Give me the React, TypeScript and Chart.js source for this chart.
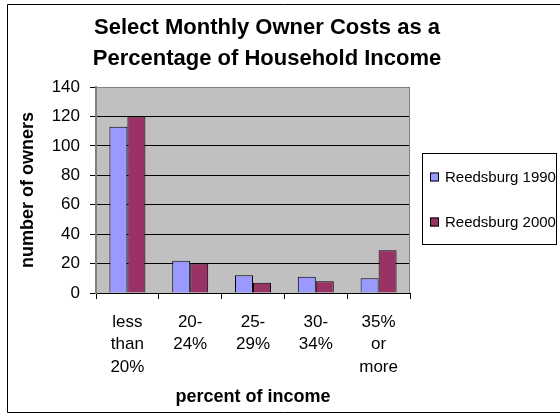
import React, { useEffect, useRef } from "react";
import { Chart, registerables } from "chart.js";

Chart.register(...registerables);

const categories: string[][] = [
  ["less", "than", "20%"],
  ["20-", "24%"],
  ["25-", "29%"],
  ["30-", "34%"],
  ["35%", "or", "more"],
];
const series1990: number[] = [113, 22, 12, 11, 10];
const series2000: number[] = [120, 20, 7, 8, 29];
const seriesLabels: string[] = ["Reedsburg 1990", "Reedsburg 2000"];
const titleLines: string[] = ["Select Monthly Owner Costs as a", "Percentage of Household Income"];
const FONT = "'Liberation Sans', Arial, sans-serif";

const decorPlugin = {
  id: "decor",
  beforeDraw(chart: any) {
    const { ctx, chartArea } = chart;
    ctx.save();
    ctx.fillStyle = "#ffffff";
    ctx.fillRect(0, 0, chart.width, chart.height);
    // outer border
    ctx.strokeStyle = "#000000";
    ctx.lineWidth = 1;
    ctx.beginPath();
    ctx.moveTo(chart.width + 2, 4.5);
    ctx.lineTo(7.5, 4.5);
    ctx.lineTo(7.5, 412.5);
    ctx.lineTo(chart.width + 2, 412.5);
    ctx.stroke();
    // plot area
    ctx.fillStyle = "#C0C0C0";
    ctx.fillRect(chartArea.left, chartArea.top, chartArea.right - chartArea.left, chartArea.bottom - chartArea.top);
    ctx.restore();
  },
  afterDraw(chart: any) {
    const { ctx, chartArea } = chart;
    ctx.save();
    ctx.strokeStyle = "#808080";
    ctx.lineWidth = 1;
    ctx.beginPath();
    ctx.moveTo(chartArea.left + 0.5, chartArea.top + 0.5);
    ctx.lineTo(chartArea.right - 0.5, chartArea.top + 0.5);
    ctx.lineTo(chartArea.right - 0.5, chartArea.bottom);
    ctx.stroke();
    // title
    ctx.fillStyle = "#000000";
    ctx.font = `bold 22px ${FONT}`;
    ctx.textAlign = "center";
    ctx.textBaseline = "alphabetic";
    ctx.fillText(titleLines[0], 267, 33.5);
    ctx.fillText(titleLines[1], 267, 64.5);
    // legend
    const lx = 422.5, ly = 153.5, lw = 134, lh = 91;
    ctx.strokeStyle = "#000000";
    ctx.strokeRect(lx, ly, lw, lh);
    ctx.font = `15px ${FONT}`;
    ctx.textAlign = "left";
    ctx.textBaseline = "middle";
    const rows = [177, 222];
    chart.data.datasets.forEach((ds: any, i: number) => {
      const cy = rows[i];
      ctx.fillStyle = ds.backgroundColor;
      ctx.fillRect(430, cy - 4.5, 9, 9);
      ctx.strokeStyle = "#000000";
      ctx.strokeRect(430.5, cy - 4, 8, 8);
      ctx.fillStyle = "#000000";
      ctx.fillText(ds.label, 445, cy + 1);
    });
    ctx.restore();
  },
};

export default function App() {
  const ref = useRef<HTMLCanvasElement | null>(null);
  useEffect(() => {
    document.body.style.margin = "0";
    const canvas = ref.current;
    if (!canvas) return;
    const chart = new Chart(canvas, {
      type: "bar",
      data: {
        labels: categories,
        datasets: [
          {
            label: seriesLabels[0],
            data: series1990,
            backgroundColor: "#9999FF",
            borderColor: "#000000",
            borderWidth: 1,
          },
          {
            label: seriesLabels[1],
            data: series2000,
            backgroundColor: "#993366",
            borderColor: "#000000",
            borderWidth: 1,
          },
        ],
      },
      options: {
        animation: false,
        responsive: false,
        devicePixelRatio: 1,
        layout: { padding: { left: 0, top: 87, right: 150, bottom: 0 } },
        datasets: { bar: { categoryPercentage: 0.573, barPercentage: 1 } },
        plugins: {
          legend: { display: false },
          title: { display: false },
          tooltip: { enabled: false },
        },
        scales: {
          x: {
            afterFit: (scale: any) => {
              scale.height = 122;
            },
            grid: {
              offset: true,
              drawOnChartArea: false,
              drawTicks: true,
              tickLength: 6,
              tickColor: "#000000",
              color: "#000000",
            },
            border: { color: "#000000", width: 1 },
            ticks: {
              color: "#000000",
              font: { family: FONT, size: 17, lineHeight: 1.32 },
              padding: 12,
              maxRotation: 0,
              autoSkip: false,
            },
            title: {
              display: true,
              text: "percent of income",
              color: "#000000",
              font: { family: FONT, size: 18, weight: "bold" },
              padding: { top: 0, bottom: 7 },
            },
          },
          y: {
            min: 0,
            max: 140,
            afterFit: (scale: any) => {
              scale.width = 96;
            },
            grid: {
              color: "#000000",
              lineWidth: 1,
              drawTicks: true,
              tickLength: 6,
              tickColor: "#000000",
            },
            border: { color: "#808080", width: 2 },
            ticks: {
              stepSize: 20,
              color: "#000000",
              font: { family: FONT, size: 17 },
              padding: 10,
            },
            title: {
              display: true,
              text: "number of owners",
              color: "#000000",
              font: { family: FONT, size: 18, weight: "bold" },
              padding: { top: 17, bottom: 0 },
            },
          },
        },
      },
      plugins: [decorPlugin],
    });
    return () => chart.destroy();
  }, []);
  return <canvas ref={ref} width={560} height={415} style={{ display: "block" }} />;
}
